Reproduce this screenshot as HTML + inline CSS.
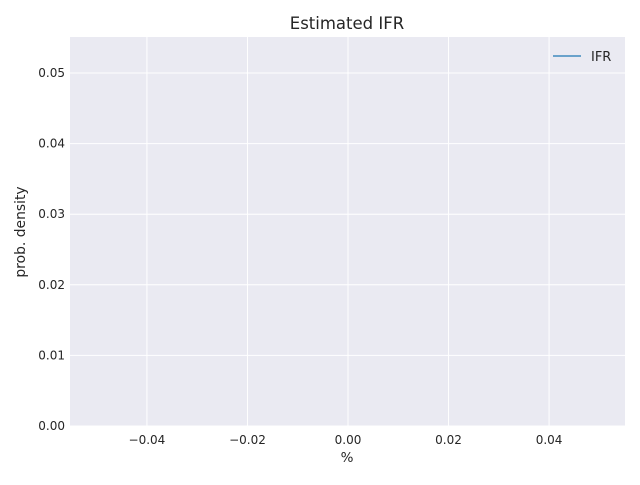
<!DOCTYPE html>
<html><head><meta charset="utf-8"><style>
body{margin:0;background:#fff;font-family:"Liberation Sans","DejaVu Sans",sans-serif;}
svg text{font-family:"DejaVu Sans","Liberation Sans",sans-serif;fill:#262626;}
</style></head><body>
<svg id="chart" width="640" height="480"></svg>
<script>
const xTicks=[-0.04,-0.02,0.00,0.02,0.04];
const xTickLabels=["\u22120.04","\u22120.02","0.00","0.02","0.04"];
const yTicks=[0,0.01,0.02,0.03,0.04,0.05];
const yTickLabels=["0.00","0.01","0.02","0.03","0.04","0.05"];
const ifrX=[];
const ifrY=[];
const L=70,R=625,T=37,B=426;
const xmin=-0.0553,xmax=0.0551,ymin=0,ymax=0.0551;
const sx=v=>L+(v-xmin)/(xmax-xmin)*(R-L);
const sy=v=>B-(v-ymin)/(ymax-ymin)*(B-T);
const svg=document.getElementById('chart');
const NS='http://www.w3.org/2000/svg';
function mk(tag,attrs,txt){const e=document.createElementNS(NS,tag);for(const k in attrs)e.setAttribute(k,attrs[k]);if(txt!==undefined)e.textContent=txt;svg.appendChild(e);return e;}
let e=mk('rect',{x:L,y:T,width:R-L,height:B-T,fill:'#eaeaf2'});


xTicks.forEach((v,i)=>{
  let g=mk('line',{x1:sx(v),x2:sx(v),y1:T,y2:B,stroke:'#fff','stroke-width':1});
  
  
  let t=mk('text',{x:sx(v),y:B+18,'text-anchor':'middle','font-size':'12'},xTickLabels[i]);
  
  
});
yTicks.forEach((v,i)=>{
  let g=mk('line',{x1:L,x2:R,y1:sy(v),y2:sy(v),stroke:'#fff','stroke-width':1});
  
  
  let t=mk('text',{x:L-5,y:sy(v)+4,'text-anchor':'end','font-size':'12'},yTickLabels[i]);
  
  
});
if(ifrX.length){
  let p=mk('polyline',{points:ifrX.map((x,i)=>sx(x)+','+sy(ifrY[i])).join(' '),fill:'none',stroke:'#1f77b4','stroke-width':1});
  
  
}
let tt=mk('text',{x:347,y:29,'text-anchor':'middle','font-size':'16.5'},'Estimated IFR');


let xl=mk('text',{x:347,y:462,'text-anchor':'middle','font-size':'13.5'},'%');


let yl=mk('text',{x:0,y:0,'text-anchor':'middle','font-size':'13.9',transform:'translate(25,232) rotate(-90)'},'prob. density');


let ll=mk('line',{x1:553,x2:581,y1:56,y2:56,stroke:'#1f77b4','stroke-width':1.2});


let lt=mk('text',{x:591,y:61,'font-size':'13'},'IFR');


</script>
</body></html>
